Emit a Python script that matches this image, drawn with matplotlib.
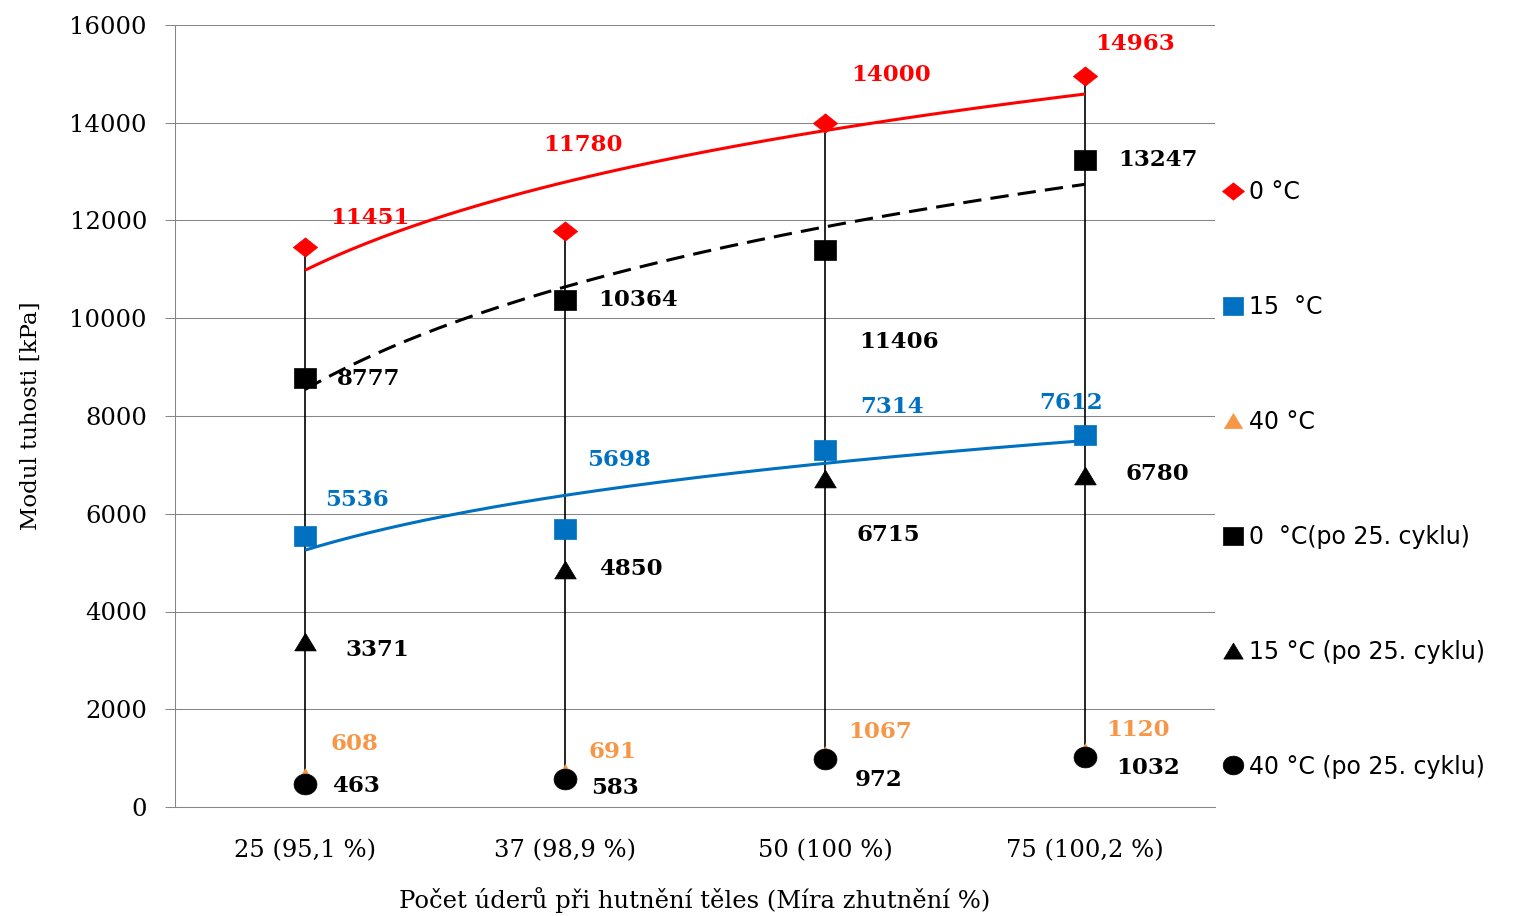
import numpy as np
import matplotlib
matplotlib.use('Agg')
import matplotlib.pyplot as plt

# ---------------- data ----------------
categories = ['25 (95,1 %)', '37 (98,9 %)', '50 (100 %)', '75 (100,2 %)']
t0 = [11451, 11780, 14000, 14963]
t15 = [5536, 5698, 7314, 7612]
t40 = [608, 691, 1067, 1120]
t0_cyc = [8777, 10364, 11406, 13247]
t15_cyc = [3371, 4850, 6715, 6780]
t40_cyc = [463, 583, 972, 1032]
legend_labels = ['0 °C', '15  °C', '40 °C', '0  °C(po 25. cyklu)',
                 '15 °C (po 25. cyklu)', '40 °C (po 25. cyklu)']
y_ticks = list(range(0, 16001, 2000))
y_label = 'Modul tuhosti [kPa]'
x_label = 'Počet úderů při hutnění těles (Míra zhutnění %)'

# ---------------- style ----------------
RED = '#FF0000'
BLUE = '#0070C0'
ORANGE = '#F79646'
BLACK = '#000000'
GRID = '#868686'
SERIF = 'DejaVu Serif'
SANS = 'DejaVu Sans'

W, H, DPI = 1513, 916, 100
fig = plt.figure(figsize=(W / DPI, H / DPI), dpi=DPI)
ax = fig.add_axes([175 / W, 1 - 807 / H, (1215 - 175) / W, (807 - 25) / H])

x = np.arange(len(categories))

# custom (slightly wide) marker shapes
diamond = [(-1.26, 0), (0, 1), (1.26, 0), (0, -1), (-1.26, 0)]
square = [(-1.2, -1), (1.2, -1), (1.2, 1), (-1.2, 1), (-1.2, -1)]
triangle = [(-1.15, -0.9), (1.15, -0.9), (0, 1.0), (-1.15, -0.9)]
theta = np.linspace(0, 2 * np.pi, 60)
ellipse = list(zip(1.1 * np.cos(theta), 1.0 * np.sin(theta)))

series = [
    (t0, RED, diamond, 17.5),
    (t15, BLUE, square, 16.5),
    (t40, ORANGE, triangle, 14.5),
    (t0_cyc, BLACK, square, 16.5),
    (t15_cyc, BLACK, triangle, 15.5),
    (t40_cyc, BLACK, ellipse, 16.5),
]

# high-low lines
allv = np.array([t0, t15, t40, t0_cyc, t15_cyc, t40_cyc])
ax.vlines(x, allv.min(axis=0), allv.max(axis=0), color=BLACK, lw=1.2, zorder=2)

handles = []
for vals, col, mk, ms in series:
    h, = ax.plot(x, vals, linestyle='none', marker=mk, markersize=ms,
                 markerfacecolor=col, markeredgecolor=col, markeredgewidth=0.5,
                 zorder=3)
    handles.append(h)

# logarithmic trendlines
xs = np.linspace(1, 4, 200)
for vals, col, ls in [(t0, RED, '-'), (t0_cyc, BLACK, '--'), (t15, BLUE, '-')]:
    a, b = np.polyfit(np.log(np.arange(1, 5)), vals, 1)
    ln, = ax.plot(xs - 1, a * np.log(xs) + b, color=col, lw=2.2, zorder=4,
                  solid_capstyle='butt')
    if ls == '--':
        ln.set_dashes((6, 3))

# data labels (offsets in pixels)
label_specs = [
    (t0, RED, [(65, 29), (18, 86), (66, 48), (50, 32)]),
    (t0_cyc, BLACK, [(64, -1), (73, 0), (74, -92), (73, 0)]),
    (t15, BLUE, [(52, 36), (54, 69), (67, 43), (-14, 32)]),
    (t15_cyc, BLACK, [(72, -8), (66, 1), (63, -56), (72, 2)]),
    (t40, ORANGE, [(49, 33), (47, 21), (55, 23), (53, 22)]),
    (t40_cyc, BLACK, [(51, -2), (50, -9), (54, -21), (63, -11)]),
]
for vals, col, offs in label_specs:
    for xi, v, (dx, dy) in zip(x, vals, offs):
        ax.annotate(str(v), (xi, v), xytext=(dx, dy), textcoords='offset pixels',
                    ha='center', va='center', color=col, fontsize=16.5,
                    fontweight='bold', family=SERIF, zorder=6)

# axes styling
ax.set_xlim(-0.5, 3.5)
ax.set_ylim(0, 16000)
ax.set_yticks(y_ticks)
ax.set_yticklabels([str(t) for t in y_ticks], family=SERIF, fontsize=17.5)
ax.set_xticks(x)
ax.set_xticklabels(categories, family=SERIF, fontsize=17.5)
ax.tick_params(axis='y', length=7.2, width=0.75, color=GRID, pad=13)
ax.tick_params(axis='x', length=0, pad=23)
ax.yaxis.grid(True, color=GRID, lw=0.75)
ax.set_axisbelow(True)
for s in ['top', 'right']:
    ax.spines[s].set_visible(False)
for s in ['left', 'bottom']:
    ax.spines[s].set_color(GRID)
    ax.spines[s].set_linewidth(0.75)

ax.set_ylabel(y_label, family=SERIF, fontsize=16.5, labelpad=20)
ax.set_xlabel(x_label, family=SERIF, fontsize=17.5, labelpad=18)

fig.legend(handles, legend_labels, loc='center left',
           bbox_to_anchor=(1221 / W, 1 - 479.5 / H),
           frameon=False, prop={'family': SANS, 'size': 17},
           handlelength=1.0, handletextpad=0.2, borderpad=0, borderaxespad=0,
           labelspacing=3.85, markerscale=0.9)

fig.savefig('out.png', dpi=DPI)
